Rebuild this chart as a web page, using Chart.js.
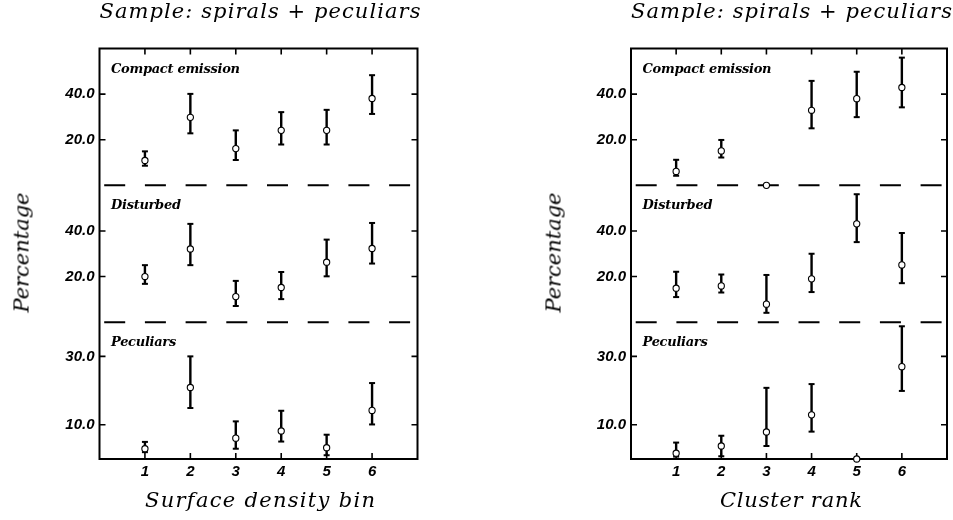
<!DOCTYPE html>
<html>
<head>
<meta charset="utf-8">
<script src="https://cdn.jsdelivr.net/npm/chart.js@4/dist/chart.umd.min.js"></script>
<style>
  html, body { margin: 0; padding: 0; background: #fff; }
  #wrap { position: relative; width: 953px; height: 520px; overflow: hidden; background: #fff; }
  canvas { position: absolute; top: 0; }
  .txt { position: absolute; color: #000; white-space: nowrap; margin: 0; padding: 0; }
</style>
</head>
<body>
<div id="wrap">
  <canvas id="cLeft" width="476" height="520" style="left:0px"></canvas>
  <canvas id="cRight" width="477" height="520" style="left:476px"></canvas>
  <div class="txt" id="titleL"></div>
  <div class="txt" id="titleR"></div>
  <div class="txt" id="ytitleL"></div>
  <div class="txt" id="ytitleR"></div>
  <div class="txt" id="xtitleL"></div>
  <div class="txt" id="xtitleR"></div>
</div>
<script>
// ---------------- DATA ----------------
const panelNames = ['Compact emission', 'Disturbed', 'Peculiars'];
const xTickValues = [1, 2, 3, 4, 5, 6];
const tallTicks = [20, 40];   // Compact emission / Disturbed panels (0-60 %)
const shortTicks = [10, 30];  // Peculiars panels (0-40 %)
const sampleTitle = 'Sample: spirals + peculiars';
const yTitle = 'Percentage';
const leftXTitle = 'Surface density bin';
const rightXTitle = 'Cluster rank';

// Left: surface density bins
const surfaceBins = [1, 2, 3, 4, 5, 6];
const sdCompact   = [10.9, 29.8, 16.1, 24.1, 24.1, 38.1];
const sdCompactLo = [8.6, 22.8, 11.1, 17.9, 17.9, 31.3];
const sdCompactHi = [14.9, 40.1, 24.1, 32.1, 33.1, 48.3];
const sdDisturbed   = [20.0, 32.1, 11.2, 15.2, 26.3, 32.3];
const sdDisturbedLo = [16.8, 25.0, 7.1, 10.1, 20.1, 25.7];
const sdDisturbedHi = [25.0, 43.1, 18.1, 22.0, 36.2, 43.5];
const sdPeculiar   = [3.0, 20.9, 6.1, 8.2, 3.3, 14.2];
const sdPeculiarLo = [2.0, 14.9, 3.0, 5.1, 1.1, 10.1];
const sdPeculiarHi = [5.0, 30.0, 11.0, 14.1, 7.1, 22.2];

// Right: cluster rank
const clusterRanks = [1, 2, 3, 4, 5, 6];
const crCompact   = [6.1, 15.1, 0.0, 32.9, 38.0, 42.9];
const crCompactLo = [4.2, 12.2, 0.0, 25.0, 29.9, 34.2];
const crCompactHi = [11.2, 19.9, 0.0, 45.8, 49.8, 56.0];
const crDisturbed   = [14.9, 15.9, 7.9, 19.0, 43.1, 25.1];
const crDisturbedLo = [11.0, 13.0, 4.1, 13.2, 35.1, 17.1];
const crDisturbedHi = [22.1, 20.9, 20.7, 30.0, 56.1, 39.1];
const crPeculiar   = [1.7, 3.8, 7.9, 12.9, 0.0, 27.0];
const crPeculiarLo = [0.7, 0.8, 3.8, 8.0, 0.0, 19.9];
const crPeculiarHi = [4.8, 6.8, 20.8, 21.9, 0.0, 38.8];

// ---------------- STYLE ----------------
const tickFont = { family: '"Liberation Sans", Arial, sans-serif', size: 15, weight: 'bold', style: 'italic' };
const serifItalic = (px) => 'italic ' + px + 'px "DejaVu Serif", serif';
const labelFont = 'italic bold 13px "DejaVu Serif", serif';

const axisKeys = ['yC', 'yD', 'yP'];       // top → bottom
const axisMax = [60, 60, 40];
const axisTicks = [tallTicks, tallTicks, shortTicks];
const axisWeights = [3, 2, 1];

const framePlugin = {
  id: 'frame',
  beforeDatasetsDraw(chart) {
    const { ctx, chartArea: a } = chart;
    const xs = chart.scales.x;
    ctx.save();
    ctx.strokeStyle = '#000';
    ctx.lineCap = 'butt';
    // ticks pointing inward
    ctx.lineWidth = 1.6;
    ctx.beginPath();
    xTickValues.forEach(v => {
      const px = xs.getPixelForValue(v);
      ctx.moveTo(px, a.top); ctx.lineTo(px, a.top + 6);
      ctx.moveTo(px, a.bottom); ctx.lineTo(px, a.bottom - 6);
    });
    axisKeys.forEach((k, i) => {
      const sc = chart.scales[k];
      axisTicks[i].forEach(v => {
        const py = sc.getPixelForValue(v);
        ctx.moveTo(a.left, py); ctx.lineTo(a.left + 6, py);
        ctx.moveTo(a.right, py); ctx.lineTo(a.right - 6, py);
      });
    });
    ctx.stroke();
    // dashed separators
    ctx.lineWidth = 2;
    ctx.setLineDash([21, 19.7]);
    ctx.lineDashOffset = 36;
    axisKeys.slice(0, 2).forEach(k => {
      const y = chart.scales[k].bottom;
      ctx.beginPath(); ctx.moveTo(a.left, y); ctx.lineTo(a.right, y); ctx.stroke();
    });
    ctx.setLineDash([]);
    // outer frame
    ctx.lineWidth = 2;
    ctx.strokeRect(a.left, a.top, a.right - a.left, a.bottom - a.top);
    // panel labels
    ctx.fillStyle = '#000';
    ctx.font = labelFont;
    const nat = ctx.measureText(panelNames[0]).width;
    const ls = (129 - nat) / (panelNames[0].length - 1);
    ctx.letterSpacing = ls.toFixed(2) + 'px';
    ctx.textBaseline = 'alphabetic';
    ctx.textAlign = 'left';
    axisKeys.forEach((k, i) => {
      ctx.fillText(panelNames[i], a.left + 11.5, chart.scales[k].top + 24);
    });
    ctx.restore();
  }
};

function buildChart(canvasId, xs, series, yAxisWidth, padRight) {
  const datasets = [];
  series.forEach((s, k) => {
    const yid = axisKeys[k];
    const bars = [], caps = [], centers = [];
    xs.forEach((x, i) => {
      centers.push({ x: x, y: s.v[i] });
      if (s.hi[i] > s.lo[i]) {
        bars.push({ x: x, y: s.lo[i] }, { x: x, y: s.hi[i] }, { x: x, y: null });
        caps.push({ x: x, y: s.lo[i] }, { x: x, y: s.hi[i] });
      }
    });
    datasets.push({
      type: 'line', label: panelNames[k] + ' error', data: bars, xAxisID: 'x', yAxisID: yid,
      borderColor: '#000', borderWidth: 2.4, pointRadius: 0, spanGaps: false, clip: false, order: 2, tension: 0
    });
    datasets.push({
      type: 'scatter', label: panelNames[k] + ' caps', data: caps, xAxisID: 'x', yAxisID: yid,
      pointStyle: 'line', pointRadius: 3, pointBorderWidth: 2, pointBorderColor: '#000',
      pointBackgroundColor: '#000', clip: false, order: 1
    });
    datasets.push({
      type: 'scatter', label: panelNames[k], data: centers, xAxisID: 'x', yAxisID: yid,
      pointStyle: 'circle', pointRadius: 3.1, pointBorderWidth: 1.1, pointBorderColor: '#000',
      pointBackgroundColor: '#fff', clip: false, order: 0
    });
  });

  const scales = {
    x: {
      type: 'linear', position: 'bottom', min: 0, max: 7,
      afterBuildTicks: sc => { sc.ticks = xTickValues.map(v => ({ value: v })); },
      afterFit: sc => { sc.height = 61; },
      ticks: { color: '#000', font: tickFont, padding: 4, maxRotation: 0, autoSkip: false, callback: v => String(v) },
      grid: { display: false, drawTicks: false }, border: { display: false }
    }
  };
  // define bottom-most first
  [2, 1, 0].forEach(i => {
    scales[axisKeys[i]] = {
      type: 'linear', position: 'left', stack: 'pct', stackWeight: 1, weight: axisWeights[i],
      min: 0, max: axisMax[i],
      afterBuildTicks: sc => { sc.ticks = axisTicks[i].map(v => ({ value: v })); },
      afterFit: sc => { sc.width = yAxisWidth; },
      ticks: { color: '#000', font: tickFont, padding: 5, callback: v => Number(v).toFixed(1) },
      grid: { display: false, drawTicks: false }, border: { display: false }
    };
  });

  return new Chart(document.getElementById(canvasId), {
    type: 'scatter',
    data: { datasets: datasets },
    options: {
      responsive: false, animation: false, events: [],
      layout: { padding: { top: 48.5, right: padRight, bottom: 0, left: 0 } },
      plugins: { legend: { display: false }, tooltip: { enabled: false }, title: { display: false } },
      scales: scales
    },
    plugins: [framePlugin]
  });
}

buildChart('cLeft', surfaceBins, [
  { v: sdCompact, lo: sdCompactLo, hi: sdCompactHi },
  { v: sdDisturbed, lo: sdDisturbedLo, hi: sdDisturbedHi },
  { v: sdPeculiar, lo: sdPeculiarLo, hi: sdPeculiarHi }
], 99.5, 58.5);

buildChart('cRight', clusterRanks, [
  { v: crCompact, lo: crCompactLo, hi: crCompactHi },
  { v: crDisturbed, lo: crDisturbedLo, hi: crDisturbedHi },
  { v: crPeculiar, lo: crPeculiarLo, hi: crPeculiarHi }
], 155, 4);

// ---------------- HTML TEXT ----------------
const mctx = document.createElement('canvas').getContext('2d');
function placeText(id, o) {
  const el = document.getElementById(id);
  mctx.font = o.font;
  const m = mctx.measureText(o.text);
  const n = o.text.length;
  const ls = o.width ? (o.width - m.width) / (n - 1) : 0;
  const w = m.width + ls * (n - 1);
  const asc = m.fontBoundingBoxAscent, desc = m.fontBoundingBoxDescent;
  const h = o.size;
  const baseOff = (h - (asc + desc)) / 2 + asc;
  el.textContent = o.text;
  el.style.font = o.font;
  el.style.lineHeight = h + 'px';
  el.style.height = h + 'px';
  el.style.letterSpacing = ls.toFixed(3) + 'px';
  el.style.width = (w + Math.max(ls, 0) + 2) + 'px';
  if (o.rotate) {
    const cx = o.bx - (baseOff - h / 2);
    el.style.left = (cx - w / 2) + 'px';
    el.style.top = (o.cy - h / 2) + 'px';
    el.style.transformOrigin = (w / 2) + 'px ' + (h / 2) + 'px';
    el.style.transform = 'rotate(-90deg)';
  } else {
    el.style.left = (o.cx - w / 2) + 'px';
    el.style.top = (o.baseline - baseOff) + 'px';
  }
}
placeText('titleL', { text: sampleTitle, font: serifItalic(21), size: 21, cx: 260, baseline: 18, width: 321 });
placeText('titleR', { text: sampleTitle, font: serifItalic(21), size: 21, cx: 791.5, baseline: 18, width: 321 });
placeText('xtitleL', { text: leftXTitle, font: serifItalic(21), size: 21, cx: 260, baseline: 507, width: 230 });
placeText('xtitleR', { text: rightXTitle, font: serifItalic(21), size: 21, cx: 791, baseline: 507, width: 142 });
placeText('ytitleL', { text: yTitle, font: serifItalic(21), size: 21, bx: 29, cy: 252, width: 120, rotate: true });
placeText('ytitleR', { text: yTitle, font: serifItalic(21), size: 21, bx: 560.5, cy: 252, width: 120, rotate: true });
</script>
</body>
</html>
